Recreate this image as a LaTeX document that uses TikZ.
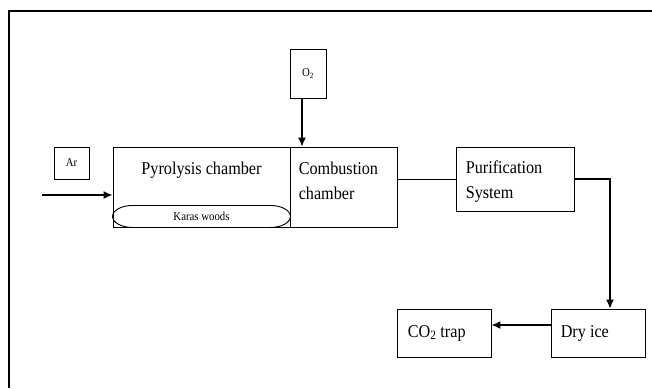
\documentclass[tikz,border=0pt]{standalone}
\usepackage{fontspec}
\setmainfont{Liberation Serif}[FakeStretch=0.9]
\usetikzlibrary{arrows.meta,calc}
\tikzset{box/.style={draw,line width=0.9pt,inner sep=0pt}}
\tikzset{lbl/.style={font=\fontsize{18}{25}\selectfont,align=left,inner sep=0pt}}
\tikzset{sm/.style={font=\fontsize{12}{12}\selectfont}}
\tikzset{arr/.style={line width=1.6pt,-{Latex[length=9pt,width=8pt]}}}

\begin{document}
\begin{tikzpicture}[x=1pt,y=-1pt]
  \useasboundingbox (0,0) rectangle (652,388);
  \draw[line width=2pt] (9,388) -- (9,11) -- (652,11);
  % chambers
  \node[box,minimum width=177pt,minimum height=80pt] (pyro) at (201.5,187) {};
  \node[lbl,anchor=north] at ($(pyro.north)+(0,15)$) {Pyrolysis chamber};
  \node[box,minimum width=107pt,minimum height=80pt] (comb) at (343.5,187) {};
  \node[lbl,anchor=north west] at ($(comb.north west)+(9,15)$) {Combustion\\chamber};
  \node[sm] (wood) at (201.5,216) {Karas woods};
  \draw[line width=0.9pt] ($(pyro.south west)+(20,0)$)
    arc[start angle=270,end angle=90,x radius=20pt,y radius=11pt]
    -- ($(pyro.south east)+(-20,-22)$)
    arc[start angle=90,end angle=-90,x radius=20pt,y radius=11pt] -- cycle;
  % gases
  \node[box,minimum width=35pt,minimum height=32pt,sm] (ar) at (71.5,163) {Ar};
  \node[box,minimum width=36pt,minimum height=49pt,sm] (oxy) at (308,73.5) {O\textsubscript{2}};
  % downstream
  \node[box,minimum width=118pt,minimum height=64pt] (pur) at (515,179) {};
  \node[lbl,anchor=north west] at ($(pur.north west)+(10,14)$) {Purification\\System};
  \node[box,minimum width=94pt,minimum height=48pt] (dry) at (598,333) {};
  \node[lbl,anchor=west] at ($(dry.west)+(10,0)$) {Dry ice};
  \node[box,minimum width=94pt,minimum height=48pt] (trap) at (444,333) {};
  \node[lbl,anchor=west] at ($(trap.west)+(11,0)$) {CO\textsubscript{2} trap};
  % connectors
  \coordinate (arin) at (42,195);
  \coordinate (turn) at (610,179);
  \draw[arr] (arin) -- (arin -| pyro.west);
  \draw[arr,line width=1.3pt] ([xshift=-6pt]oxy.south) -- ([xshift=-6pt]oxy.south |- comb.north);
  \draw[line width=0.9pt] (comb.east |- pur.west) -- (pur.west);
  \draw[arr,line width=1.3pt] (pur.east) -- (turn) -- (turn |- dry.north);
  \draw[arr] ([yshift=8pt]dry.west) -- ([yshift=8pt]trap.east);
\end{tikzpicture}
\end{document}
